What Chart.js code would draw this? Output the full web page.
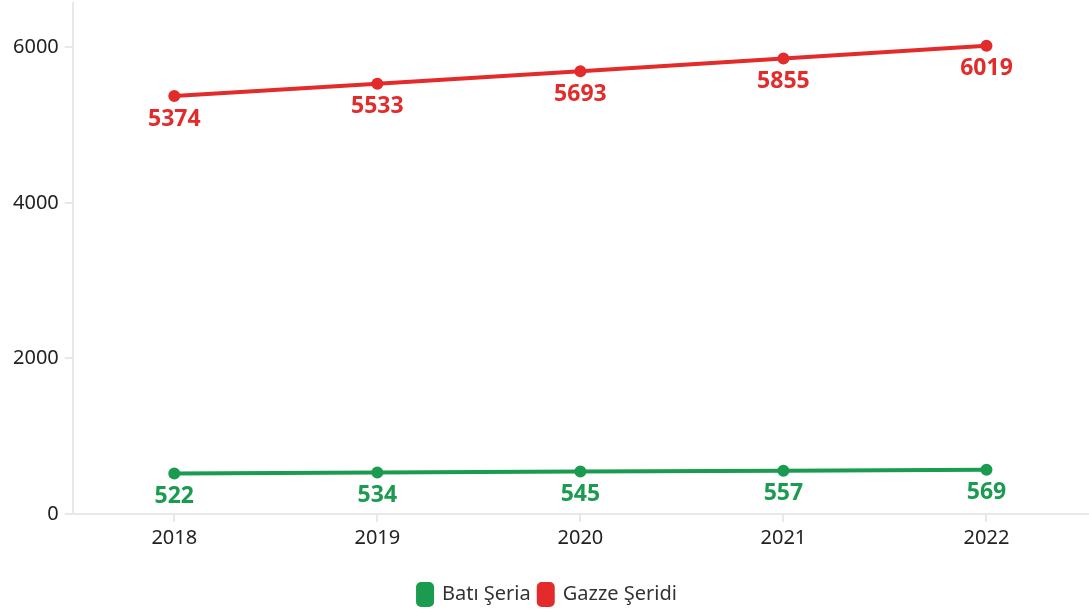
<!DOCTYPE html>
<html>
<head>
<meta charset="utf-8">
<script src="https://cdn.jsdelivr.net/npm/chart.js@4/dist/chart.umd.min.js"></script>
<style>
  html, body { margin: 0; padding: 0; background: #fff; }
  #wrap { width: 1089px; height: 609px; }
</style>
</head>
<body>
<div id="wrap"><canvas id="lineChart"></canvas></div>
<script>
"use strict";

const years = ["2018", "2019", "2020", "2021", "2022"];
const batiSeria = [522, 534, 545, 557, 569];
const gazzeSeridi = [5374, 5533, 5693, 5855, 6019];
const yTicks = [0, 2000, 4000, 6000];

const FONT = "'Noto Sans', 'Open Sans', sans-serif";

// draws the value under each point
const pointLabels = {
  id: "pointLabels",
  afterDatasetsDraw(chart) {
    const ctx = chart.ctx;
    ctx.save();
    ctx.font = "bold 23px " + FONT;
    ctx.textAlign = "center";
    ctx.textBaseline = "middle";
    chart.data.datasets.forEach((ds, i) => {
      const meta = chart.getDatasetMeta(i);
      ctx.fillStyle = ds.borderColor;
      meta.data.forEach((pt, j) => {
        ctx.fillText(ds.data[j], pt.x, pt.y + 23);
      });
    });
    ctx.restore();
  },
};

new Chart(document.getElementById("lineChart").getContext("2d"), {
  type: "line",
  data: {
    labels: years,
    datasets: [
      {
        label: "Batı Şeria",
        data: batiSeria,
        borderColor: "#1a9b50",
        backgroundColor: "#1a9b50",
        borderWidth: 4,
        pointRadius: 4,
        pointHoverRadius: 4,
        tension: 0,
      },
      {
        label: "Gazze Şeridi",
        data: gazzeSeridi,
        borderColor: "#e32b2b",
        backgroundColor: "#e32b2b",
        borderWidth: 4,
        pointRadius: 4,
        pointHoverRadius: 4,
        tension: 0,
      },
    ],
  },
  options: {
    responsive: true,
    maintainAspectRatio: false,
    animation: false,
    layout: { autoPadding: false, padding: { top: 3, right: 1, left: 7, bottom: -6 } },
    plugins: {
      legend: {
        position: "bottom",
        labels: {
          font: { family: FONT, size: 20 },
          color: "#333",
          boxWidth: 14,
          boxHeight: 21,
          useBorderRadius: true,
          borderRadius: 3,
          padding: 8,
        },
      },
      tooltip: { enabled: false },
    },
    scales: {
      x: {
        offset: true,
        grid: { display: true, drawOnChartArea: false, color: "#e8e8e8", tickLength: 8, lineWidth: 2 },
        border: { color: "#e8e8e8", width: 2 },
        ticks: { font: { family: FONT, size: 20 }, color: "#222", padding: 4 },
        afterFit: (scale) => {
          scale.height += 22;
          scale.paddingRight = 0;
        },
      },
      y: {
        min: 0,
        max: 6570,
        grid: { display: true, drawOnChartArea: false, color: "#e8e8e8", tickLength: 8, lineWidth: 2 },
        border: { color: "#e8e8e8", width: 2 },
        afterBuildTicks: (scale) => {
          scale.ticks = yTicks.map((v) => ({ value: v }));
        },
        afterFit: (scale) => {
          scale.paddingTop = 0;
        },
        ticks: {
          font: { family: FONT, size: 20 },
          color: "#222",
          padding: 6,
          callback: (v) => String(v),
        },
      },
    },
  },
  plugins: [pointLabels],
});
</script>
</body>
</html>
